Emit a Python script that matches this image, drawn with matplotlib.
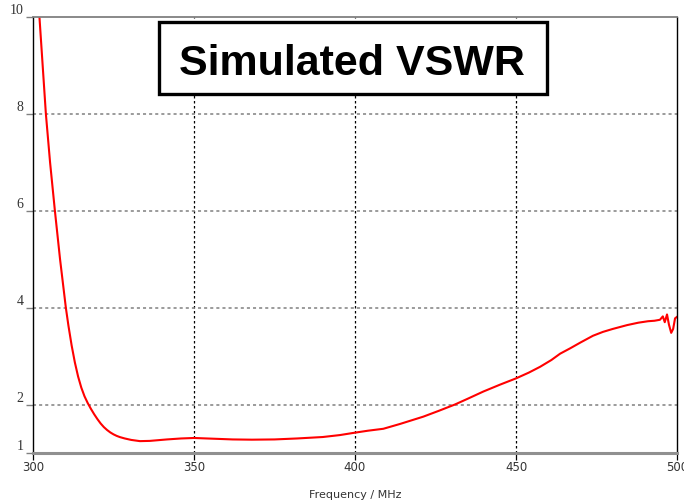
import matplotlib
matplotlib.use("Agg")
import matplotlib.pyplot as plt
from matplotlib.patches import Rectangle

# frequency (MHz) and VSWR
freq = [301.5, 302.0, 303.0, 304.0, 305.3, 306.8, 308.4, 310.2, 311.0, 312.0,
        313.0, 314.0, 315.0, 316.0, 317.0, 318.0, 319.0, 320.0, 321.0, 322.0,
        323.0, 324.0, 325.0, 326.0, 327.0, 328.5, 330.5, 333.2, 336.3,
        341.6, 346.0, 350.0, 354.0, 358.0, 362.0, 368.0, 375.0, 382.0, 390.0,
        395.3, 400.0, 404.0, 408.8, 414.0, 421.2, 426.0, 431.0, 435.0, 439.9,
        445.0, 450.0, 454.0, 457.5, 461.0, 463.7, 466.8, 470.0, 473.9, 477.0,
        480.0, 484.5, 488.0, 491.0, 493.0, 494.7, 495.6, 496.2, 496.9, 497.5,
        498.2, 498.8, 499.4, 500.0]
vswr = [10.5, 10.0, 9.0, 8.0, 7.0, 6.0, 5.0, 4.0, 3.63, 3.22,
        2.87, 2.58, 2.35, 2.17, 2.03, 1.91, 1.80, 1.70, 1.61, 1.535,
        1.475, 1.425, 1.385, 1.353, 1.328, 1.30, 1.27, 1.245, 1.25,
        1.28, 1.30, 1.31, 1.30, 1.29, 1.28, 1.275, 1.28, 1.30, 1.33,
        1.37, 1.42, 1.46, 1.50, 1.60, 1.75, 1.87, 2.0, 2.12, 2.27,
        2.41, 2.54, 2.66, 2.78, 2.92, 3.05, 3.16, 3.28, 3.42, 3.50,
        3.56, 3.64, 3.69, 3.72, 3.73, 3.75, 3.82, 3.70, 3.86, 3.65,
        3.48, 3.56, 3.78, 3.81]

xticks = [300, 350, 400, 450, 500]
yticks = [1, 2, 4, 6, 8, 10]

fig = plt.figure(figsize=(6.84, 5.04), dpi=100)
ax = fig.add_axes([33 / 684, 1 - 453 / 504, 644 / 684, 436 / 504])

ax.plot(freq, vswr, color="#ff0000", lw=1.5, clip_on=True)

ax.set_xlim(300, 500)
ax.set_ylim(1, 10)
ax.set_xticks(xticks)
ax.set_yticks(yticks)

# grid: vertical black dotted, horizontal grey dotted
for x in xticks[1:-1]:
    ax.axvline(x, color="black", lw=0.9, ls=(0, (2, 2)), zorder=0)
for y in yticks[1:-1]:
    ax.axhline(y, color="#808080", lw=1.1, ls=(0, (2, 2)), zorder=0)

ax.spines["left"].set_color("black")
ax.spines["left"].set_linewidth(1.0)
ax.spines["right"].set_color("black")
ax.spines["right"].set_linewidth(1.0)
ax.spines["top"].set_color("#808080")
ax.spines["top"].set_linewidth(1.3)
ax.spines["bottom"].set_color("#909090")
ax.spines["bottom"].set_linewidth(2.2)

ax.tick_params(axis="x", direction="out", length=5, width=0.9, color="black",
               labelsize=8.5, pad=1, labelcolor="#333333")
ax.tick_params(axis="y", direction="out", length=5, width=1.0, color="#808080",
               labelsize=10, pad=2, labelcolor="#333333")
for lbl in ax.get_yticklabels():
    lbl.set_family("Liberation Serif")
    lbl.set_va("bottom")

fig.text(355 / 684, 1 - 495 / 504, "Frequency / MHz", ha="center", va="center",
         fontsize=8, color="#333333")

# title box
fig.patches.append(Rectangle((159 / 684, 1 - 94 / 504), 388 / 684, 72 / 504,
                             transform=fig.transFigure, facecolor="white",
                             edgecolor="black", lw=2.4, zorder=5))
fig.text(352 / 684, 1 - 75 / 504, "Simulated VSWR", ha="center", va="baseline",
         fontsize=31, fontweight="bold", family="Liberation Sans", zorder=6)

fig.savefig("out.png", dpi=100)
